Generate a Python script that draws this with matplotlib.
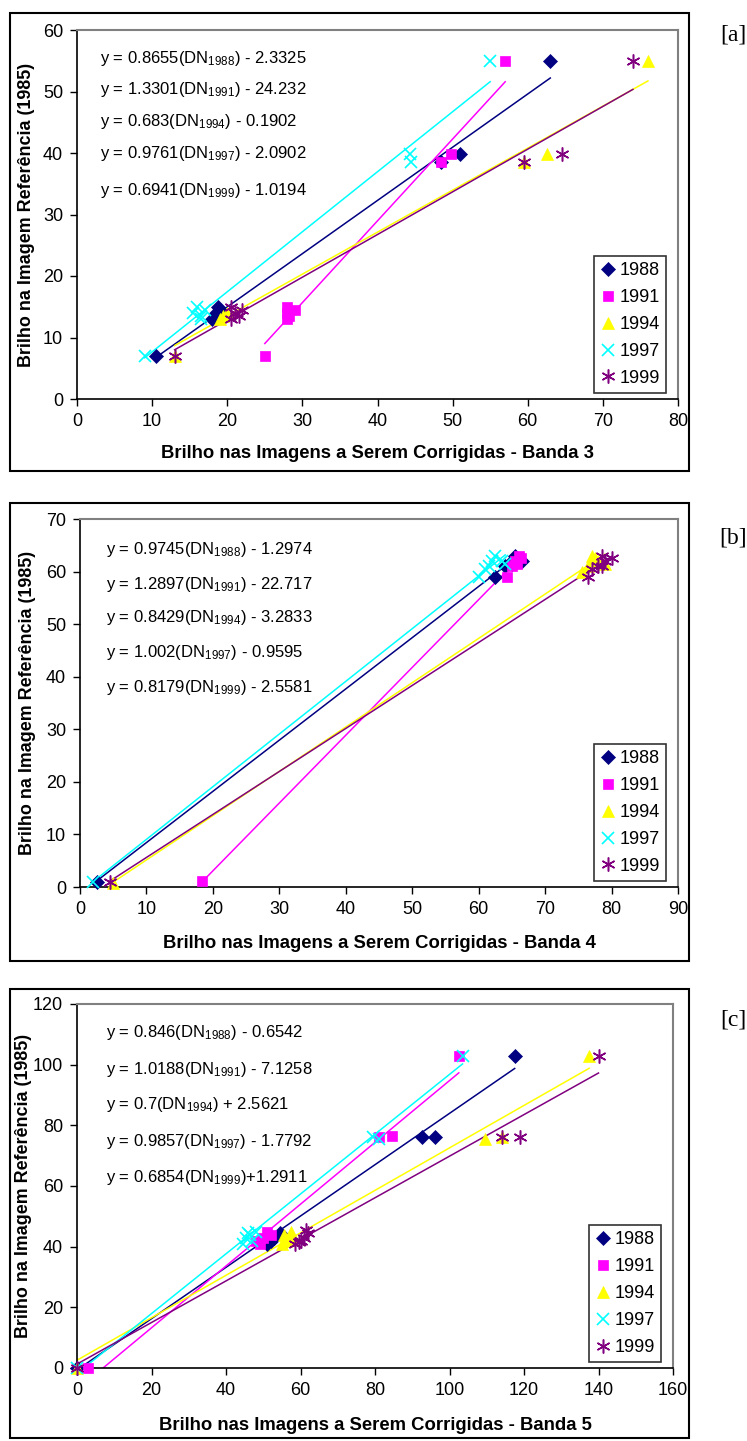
import matplotlib.pyplot as plt
from matplotlib.patches import Rectangle

plt.rcParams['font.family'] = ['Liberation Sans', 'DejaVu Sans']
plt.rcParams['mathtext.default'] = 'regular'

years = ['1988', '1991', '1994', '1997', '1999']
colors = ['#000080', '#FF00FF', '#FFFF00', '#00FFFF', '#800080']
markers = ['D', 's', '^', 'x', (6, 2, 0)]
msizes = [7, 7, 8.5, 8.5, 10]
mews = [0.5, 0.5, 0.5, 1.2, 1.1]

# %%
# band 3
band3_x = [[10.5, 18, 18.5, 18.8, 19, 18.5, 48.5, 51, 63],
           [25, 28, 28, 28, 29, 28.2, 48.5, 49.8, 57],
           [13, 19, 20, 19.5, 59.5, 62.5, 76],
           [9, 15.5, 16, 16.5, 17, 16.5, 44.5, 44.3, 55],
           [13, 20.5, 21, 21.5, 22, 20.5, 59.5, 64.5, 74]]
band3_y = [[7, 13, 14, 15, 14.5, 13.5, 38.5, 39.8, 55],
           [7, 13, 14, 15, 14.5, 13.5, 38.5, 39.8, 55],
           [7, 13, 14, 13.5, 38.5, 39.8, 55],
           [7, 14, 15, 13, 14.5, 13.5, 38.5, 39.8, 55],
           [7, 13, 14, 13.5, 14.5, 15, 38.5, 39.8, 55]]
band3_slope = [0.8655, 1.3301, 0.683, 0.9761, 0.6941]
band3_icpt = [-2.3325, -24.232, -0.1902, -2.0902, -1.0194]
band3_eq = ['y = 0.8655(DN$_{1988}$) - 2.3325',
            'y = 1.3301(DN$_{1991}$) - 24.232',
            'y = 0.683(DN$_{1994}$) - 0.1902',
            'y = 0.9761(DN$_{1997}$) - 2.0902',
            'y = 0.6941(DN$_{1999}$) - 1.0194']

# %%
# band 4
band4_x = [[2.5, 62.5, 64, 65, 65.5, 66.5, 65],
           [18.3, 64.3, 65, 65.5, 66, 66.3, 65.8],
           [5, 75.5, 76.5, 77, 78, 79, 77.5],
           [2, 60, 61.5, 62, 62.5, 63.5, 64, 61],
           [4.5, 76.5, 77, 78, 78.5, 79, 80, 78.5]]
band4_y = [[1, 59, 61, 62, 63, 62, 61.5],
           [1.2, 59, 61, 62, 63, 62.5, 61.5],
           [0.8, 60, 61, 63, 62, 61.5, 62.5],
           [1, 59, 61, 62, 63, 62, 61.5, 60.5],
           [1, 59, 60.5, 61, 63, 62, 62.5, 61]]
band4_slope = [0.9745, 1.2897, 0.8429, 1.002, 0.8179]
band4_icpt = [-1.2974, -22.717, -3.2833, -0.9595, -2.5581]
band4_eq = ['y = 0.9745(DN$_{1988}$) - 1.2974',
            'y = 1.2897(DN$_{1991}$) - 22.717',
            'y = 0.8429(DN$_{1994}$) - 3.2833',
            'y = 1.002(DN$_{1997}$) - 0.9595',
            'y = 0.8179(DN$_{1999}$) - 2.5581']

# %%
# band 5
band5_x = [[0, 51, 53, 54.5, 52, 92.5, 96, 117.5],
           [3, 48, 50, 51, 52, 49, 81, 84.5, 102.5],
           [0, 55, 56, 57.5, 58, 55.5, 109.5, 114, 137.5],
           [0, 44.5, 45.5, 46.5, 47, 48, 46, 79.5, 81, 103.5],
           [0, 58.5, 60, 61, 62, 61.5, 59.5, 114, 119, 140]]
band5_y = [[0, 41, 43, 44.5, 42, 76, 76.3, 103],
           [0, 42, 43, 45, 44, 41, 76, 76.5, 103],
           [0, 41, 42, 45, 43, 44, 75.5, 76, 103],
           [0, 41, 43, 44, 42, 45, 44.5, 76, 75.5, 103],
           [0, 41, 42, 43, 44.5, 45.5, 41.5, 76, 76.3, 103]]
band5_slope = [0.846, 1.0188, 0.7, 0.9857, 0.6854]
band5_icpt = [-0.6542, -7.1258, 2.5621, -1.7792, 1.2911]
band5_eq = ['y = 0.846(DN$_{1988}$) - 0.6542',
            'y = 1.0188(DN$_{1991}$) - 7.1258',
            'y = 0.7(DN$_{1994}$) + 2.5621',
            'y = 0.9857(DN$_{1997}$) - 1.7792',
            'y = 0.6854(DN$_{1999}$)+1.2911']

# %%
fig = plt.figure(figsize=(7.47, 14.41), dpi=100)
W, H = 747, 1441

panels = [
    dict(xs=band3_x, ys=band3_y, m=band3_slope, b=band3_icpt, eq=band3_eq,
         rect=(77, 30, 678, 399), frame=(10, 13, 689, 471), xmax=80, xstep=10,
         ymax=60, ystep=10, band='3', tag='[a]', tag_y=35, yl=27,
         eq_y=[0.924, 0.840, 0.753, 0.664, 0.564], eq_x=0.038, xl=453),
    dict(xs=band4_x, ys=band4_y, m=band4_slope, b=band4_icpt, eq=band4_eq,
         rect=(80, 519, 678, 887), frame=(10, 503, 689, 961), xmax=90, xstep=10,
         ymax=70, ystep=10, band='4', tag='[b]', tag_y=538, yl=28,
         eq_y=[0.916, 0.821, 0.731, 0.636, 0.543], eq_x=0.044, xl=943),
    dict(xs=band5_x, ys=band5_y, m=band5_slope, b=band5_icpt, eq=band5_eq,
         rect=(77, 1004, 673, 1368), frame=(10, 989, 689, 1438), xmax=160, xstep=20,
         ymax=120, ystep=20, band='5', tag='[c]', tag_y=1020, yl=24,
         eq_y=[0.923, 0.819, 0.723, 0.621, 0.522], eq_x=0.049, xl=1425),
]

for p in panels:
    x0, y0, x1, y1 = p['rect']
    ax = fig.add_axes([x0 / W, 1 - y1 / H, (x1 - x0) / W, (y1 - y0) / H])

    for i in range(5):
        xs, ys = p['xs'][i], p['ys'][i]
        lo, hi = min(xs), max(xs)
        ax.plot([lo, hi], [p['m'][i] * lo + p['b'][i], p['m'][i] * hi + p['b'][i]],
                color=colors[i], lw=1.1, zorder=2)
        ax.plot(xs, ys, ls='none', marker=markers[i], ms=msizes[i], color=colors[i],
                mew=mews[i], label=years[i], zorder=3, clip_on=False)

    for k, t in enumerate(p['eq']):
        ax.text(p['eq_x'], p['eq_y'][k], t, transform=ax.transAxes, fontsize=12,
                va='center', ha='left')

    ax.set_xlim(0, p['xmax'])
    ax.set_ylim(0, p['ymax'])
    ax.set_xticks(range(0, p['xmax'] + 1, p['xstep']))
    ax.set_yticks(range(0, p['ymax'] + 1, p['ystep']))
    ax.tick_params(direction='out', length=5, width=1, labelsize=13, pad=5)
    for s in ['top', 'right']:
        ax.spines[s].set_color('#808080')
        ax.spines[s].set_linewidth(1.5)
    for s in ['left', 'bottom']:
        ax.spines[s].set_linewidth(1.2)

    ax.set_xlabel('Brilho nas Imagens a Serem Corrigidas - Banda ' + p['band'],
                  fontsize=13.3, fontweight='bold', va='center')
    ax.xaxis.set_label_coords(0.5, (y1 - p['xl']) / (y1 - y0))
    ax.set_ylabel('Brilho na Imagem Referência (1985)', fontsize=12.9,
                  fontweight='bold', va='center')
    ax.yaxis.set_label_coords(-(x0 - p['yl']) / (x1 - x0), 0.5)

    leg = ax.legend(loc='lower right', bbox_to_anchor=(0.98, 0.016), fontsize=13,
                    frameon=True, fancybox=False, edgecolor='black',
                    handlelength=0.8, handletextpad=0.25, labelspacing=0.55,
                    borderpad=0.35, borderaxespad=0)
    leg.get_frame().set_linewidth(1.2)

    fx0, fy0, fx1, fy1 = p['frame']
    fig.patches.append(Rectangle((fx0 / W, 1 - fy1 / H), (fx1 - fx0) / W,
                                 (fy1 - fy0) / H, transform=fig.transFigure,
                                 fill=False, edgecolor='black', lw=1.5))
    fig.text(733 / W, 1 - p['tag_y'] / H, p['tag'], fontsize=17, ha='center',
             va='center', family=['Liberation Serif', 'DejaVu Serif'])

fig.savefig('out.png', dpi=100)
